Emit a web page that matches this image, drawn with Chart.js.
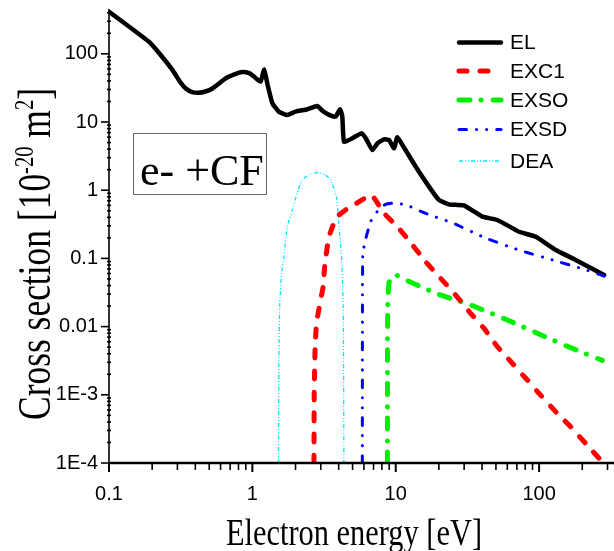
<!DOCTYPE html>
<html><head><meta charset="utf-8">
<script src="https://cdn.jsdelivr.net/npm/chart.js@4.4.1/dist/chart.umd.min.js"></script>
<style>html,body{margin:0;padding:0;background:#fff;overflow:hidden}</style>
</head><body>
<canvas id="c" width="614" height="551"></canvas>
<script>
// ---- data (energy in eV, cross section in 1e-20 m^2) ----
const elEnergy = [0.1,0.19,0.224,0.277,0.31,0.343,0.38,0.425,0.47,0.526,0.652,0.75,0.85,0.95,1.03,1.14,1.21,1.27,1.38,1.53,1.75,2.0,2.42,2.84,3.08,3.43,3.81,4.09,4.24,4.36,4.98,5.79,6.18,6.88,7.45,8.28,8.98,9.73,10.26,11.7,13.8,17.1,20,23.5,26.2,29.9,40.2,51.1,72.4,94.7,130.6,180,284];
const elCross  = [414,150,102,58,40,31,27.5,26.9,28,31,43.7,50,54,52,46,39,59,37,18.8,14.2,12.7,14.2,15.4,17.2,14.6,12.7,12,15.4,12,5.14,5.77,6.83,5.77,3.88,4.87,5.57,5.45,4.11,5.97,3.88,2.21,1.12,0.72,0.62,0.61,0.6,0.41,0.366,0.246,0.208,0.133,0.095,0.057];

const exc1Energy = [2.69,2.7,2.74,2.8,2.92,3.11,3.21,3.43,3.86,4.5,5.12,6.0,6.8,8.29,10.5,13.1,16.2,20.6,26.2,32.5,41.3,51.1,65,82.7,102,131,166,211,275,285];
const exc1Cross  = [1e-4,0.001,0.005,0.011,0.0187,0.038,0.085,0.21,0.4,0.52,0.61,0.75,0.85,0.46,0.276,0.157,0.089,0.051,0.029,0.0166,0.0094,0.0051,0.0029,0.00165,0.001,0.00056,0.00034,0.000194,0.000105,0.0001];

const exsoEnergy = [8.75,8.76,8.8,9.0,10,12.05,20,34.2,58.5,97,162,276];
const exsoCross  = [1e-4,0.004,0.02,0.045,0.057,0.047,0.0297,0.0203,0.0128,0.008,0.005,0.0032];

const exsdEnergy = [5.85,5.86,5.9,6.2,6.7,7.5,8.5,10,12,16,25,42,72,124,211,284];
const exsdCross  = [1e-4,0.02,0.12,0.2,0.35,0.5,0.62,0.65,0.6,0.46,0.33,0.2,0.133,0.095,0.068,0.055];

const deaEnergy = [1.52,1.53,1.55,1.6,1.66,1.75,1.9,2.05,2.23,2.5,2.84,3.2,3.52,3.86,4.03,4.2,4.3,4.33,4.35];
const deaCross  = [1e-4,0.003,0.02,0.06,0.106,0.29,0.51,0.9,1.41,1.7,1.81,1.7,1.41,0.8,0.29,0.095,0.02,0.002,1e-4];

const seriesLabels = ['EL','EXC1','EXSO','EXSD','DEA'];

const xTickValues = [0.1,1,10,100];
const xTickLabels = ['0.1','1','10','100'];
const yTickValues = [1e-4,1e-3,0.01,0.1,1,10,100];
const yTickLabels = ['1E-4','1E-3','0.01','0.1','1','10','100'];

const xTitle = 'Electron energy [eV]';
const yTitleParts = [['Cross section [10',false],['-20',true],[' m',false],['2',true],[']',false]];
const boxText = 'e- +CF';

// ---- helpers ----
const pts = (xs, ys) => xs.map((x,i)=>({x, y: ys[i]}));
const findIdx = (arr, v) => arr.findIndex(t => Math.abs(Math.log10(t) - Math.log10(v)) < 1e-6);

const styles = [
  {c:'#000000', w:4.5, dash:[], cap:'round'},
  {c:'#ff0000', w:5, dash:[8,13], cap:'round'},
  {c:'#00f000', w:5, dash:[11,11,0.1,12], cap:'round'},
  {c:'#0000ff', w:3, dash:[7.5,10,0.1,10,0.1,10], cap:'round'},
  {c:'#00e8ff', w:1.3, dash:[4,2,1,2,1,2], cap:'butt'}
];
const seriesData = [pts(elEnergy,elCross), pts(exc1Energy,exc1Cross), pts(exsoEnergy,exsoCross), pts(exsdEnergy,exsdCross), pts(deaEnergy,deaCross)];
const orders = [10,2,3,4,5];

const datasets = seriesLabels.map((lab,i)=>({
  label: lab, data: seriesData[i], borderColor: styles[i].c, backgroundColor: styles[i].c,
  borderWidth: styles[i].w, borderDash: styles[i].dash, borderCapStyle: styles[i].cap,
  borderJoinStyle:'round', pointRadius:0, tension:0.15, fill:false, order: orders[i]
}));

function drawSqueezed(ctx, parts, x, y, size, sx, family){
  ctx.save();
  ctx.translate(x, y);
  ctx.scale(sx, 1);
  let cx = 0;
  for (const [t, sup] of parts){
    const fs = sup ? size*0.58 : size;
    ctx.font = fs + 'px "' + family + '"';
    ctx.fillText(t, cx, sup ? -size*0.38 : 0);
    cx += ctx.measureText(t).width;
  }
  ctx.restore();
  return cx*sx;
}
function measureParts(ctx, parts, size, family){
  let w=0;
  for (const [t,sup] of parts){ ctx.font=(sup?size*0.58:size)+'px "'+family+'"'; w+=ctx.measureText(t).width; }
  return w;
}
function zeroPad(s){ s.paddingTop=0; s.paddingBottom=0; s.paddingLeft=0; s.paddingRight=0; }

const decorPlugin = {
  id:'decor',
  afterDraw(chart){
    const ctx = chart.ctx, a = chart.chartArea;
    const xs = chart.scales.x, ys = chart.scales.y;
    ctx.save();
    ctx.strokeStyle='#000'; ctx.fillStyle='#000'; ctx.lineCap='butt';
    ctx.lineWidth=2.5;
    ctx.beginPath(); ctx.moveTo(a.left-1, a.bottom); ctx.lineTo(a.right, a.bottom); ctx.stroke();
    ctx.lineWidth=1.6;
    ctx.beginPath(); ctx.moveTo(a.left, a.top); ctx.lineTo(a.left, a.bottom+1); ctx.stroke();
    for (let e=-1; e<=2; e++){
      for (let m=1; m<=9; m++){
        const v = m*Math.pow(10,e);
        if (v > xs.max) continue;
        const px = xs.getPixelForValue(v);
        ctx.lineWidth = m===1 ? 2 : 1.6;
        ctx.beginPath(); ctx.moveTo(px, a.bottom); ctx.lineTo(px, a.bottom + (m===1?9:7)); ctx.stroke();
      }
    }
    for (let e=-4; e<=2; e++){
      for (let m=1; m<=9; m++){
        const v = m*Math.pow(10,e);
        if (v > ys.max) continue;
        const py = ys.getPixelForValue(v);
        ctx.lineWidth = 1.6;
        ctx.beginPath();
        if (m===1){ ctx.moveTo(a.left-8, py); ctx.lineTo(a.left, py); }
        else { ctx.moveTo(a.left-2, py); ctx.lineTo(a.left+2, py); }
        ctx.stroke();
      }
    }
    const rows=[42.5,71,100,129.5,161];
    chart.data.datasets.forEach((ds,i)=>{
      const y=rows[i];
      ctx.save();
      ctx.strokeStyle=ds.borderColor; ctx.lineWidth=ds.borderWidth; ctx.lineCap=ds.borderCapStyle;
      ctx.setLineDash(ds.borderDash);
      ctx.beginPath(); ctx.moveTo(459,y); ctx.lineTo(501,y); ctx.stroke();
      ctx.restore();
      ctx.font='21px "Liberation Sans"'; ctx.textBaseline='middle'; ctx.textAlign='left'; ctx.fillStyle='#000';
      ctx.fillText(ds.label, 510, y+1);
    });
    ctx.strokeStyle='#666'; ctx.lineWidth=1;
    ctx.strokeRect(133.5,133.5,133,61);
    ctx.fillStyle='#000'; ctx.textBaseline='alphabetic'; ctx.textAlign='left';
    ctx.font='44px "Liberation Serif"';
    ctx.fillText(boxText, 140, 185);
    {
      const fam='Liberation Serif', size=37;
      const w = measureParts(ctx, [[xTitle,false]], size, fam);
      drawSqueezed(ctx, [[xTitle,false]], 226, 545, size, 256/w, fam);
    }
    {
      const fam='Liberation Serif', size=46;
      const w = measureParts(ctx, yTitleParts, size, fam);
      ctx.save();
      ctx.translate(50, 420);
      ctx.rotate(-Math.PI/2);
      drawSqueezed(ctx, yTitleParts, 0, 0, size, 332/w, fam);
      ctx.restore();
    }
    ctx.restore();
  }
};

new Chart(document.getElementById('c'), {
  type:'line',
  data:{datasets},
  options:{
    responsive:false, animation:false, devicePixelRatio:1,
    layout:{padding:{top:9,right:0,left:0,bottom:0}},
    plugins:{legend:{display:false}, tooltip:{enabled:false}},
    scales:{
      x:{
        type:'logarithmic', min:0.1, max:333,
        grid:{display:false, drawTicks:false}, border:{display:false},
        afterBuildTicks: s => { s.ticks = xTickValues.map(v=>({value:v})); },
        afterFit: s => { s.height = 88; zeroPad(s); },
        ticks:{autoSkip:false, maxRotation:0, minRotation:0, padding:19, color:'#000',
          font:{family:'Liberation Sans', size:20},
          callback:(v)=>{ const i=findIdx(xTickValues,v); return i>=0?xTickLabels[i]:''; }}
      },
      y:{
        type:'logarithmic', min:1e-4, max:454,
        grid:{display:false, drawTicks:false}, border:{display:false},
        afterBuildTicks: s => { s.ticks = yTickValues.map(v=>({value:v})); },
        afterFit: s => { s.width = 109; zeroPad(s); },
        ticks:{autoSkip:false, padding:11, color:'#000',
          font:{family:'Liberation Sans', size:20},
          callback:(v)=>{ const i=findIdx(yTickValues,v); return i>=0?yTickLabels[i]:''; }}
      }
    }
  },
  plugins:[decorPlugin]
});
</script>
</body></html>
